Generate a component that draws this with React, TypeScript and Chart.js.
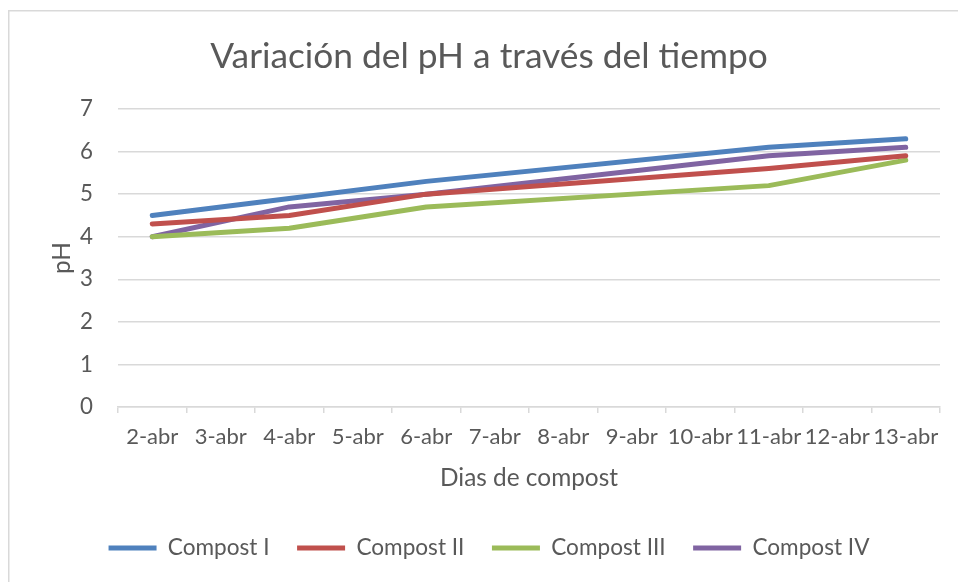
import React, { useEffect, useRef } from "react";
import { Chart, registerables } from "chart.js";

Chart.register(...registerables);

const categories = ["2-abr", "3-abr", "4-abr", "5-abr", "6-abr", "7-abr", "8-abr", "9-abr", "10-abr", "11-abr", "12-abr", "13-abr"];
const compostI = [4.5, null, 4.9, null, 5.3, null, null, null, null, 6.1, null, 6.3];
const compostII = [4.3, null, 4.5, null, 5.0, null, null, null, null, 5.6, null, 5.9];
const compostIII = [4.0, null, 4.2, null, 4.7, null, null, null, null, 5.2, null, 5.8];
const compostIV = [4.0, null, 4.7, null, 5.0, null, null, null, null, 5.9, null, 6.1];
const seriesNames = ["Compost I", "Compost II", "Compost III", "Compost IV"];
const seriesColors = ["#4F81BD", "#C0504D", "#9BBB59", "#8064A2"];

const TEXT = "#595959";
const GRID = "#D9D9D9";
const FONT = "Lato";

const framePlugin = {
  id: "frame",
  beforeDraw(chart: any) {
    const ctx = chart.ctx;
    ctx.save();
    ctx.fillStyle = "#FFFFFF";
    ctx.fillRect(0, 0, chart.width, chart.height);
    ctx.strokeStyle = GRID;
    ctx.lineWidth = 1.5;
    ctx.beginPath();
    ctx.moveTo(8.75, chart.height);
    ctx.lineTo(8.75, 10.75);
    ctx.lineTo(chart.width, 10.75);
    ctx.stroke();
    ctx.restore();
  },
};

export default function App() {
  const ref = useRef<HTMLCanvasElement | null>(null);
  useEffect(() => {
    if (!ref.current) return;
    const values = [compostI, compostII, compostIII, compostIV];
    const chart = new Chart(ref.current, {
      type: "line",
      data: {
        labels: categories,
        datasets: values.map((v, i) => ({
          label: seriesNames[i],
          data: v,
          borderColor: seriesColors[i],
          backgroundColor: seriesColors[i],
          borderWidth: 5,
          borderCapStyle: "round" as const,
          borderJoinStyle: "round" as const,
          pointRadius: 0,
          pointHoverRadius: 0,
          pointStyle: "line" as const,
          tension: 0,
          spanGaps: true,
        })),
      },
      options: {
        animation: false,
        responsive: false,
        events: [],
        layout: { padding: { top: 0, bottom: 12.7, left: 20, right: 0 } },
        plugins: {
          title: {
            display: true,
            text: "Variación del pH a través del tiempo",
            color: TEXT,
            font: { family: FONT, size: 35.3, weight: "normal" },
            padding: { top: 35.8, bottom: 30.84 },
          },
          legend: {
            display: true,
            position: "bottom",
            labels: {
              usePointStyle: true,
              pointStyleWidth: 48,
              color: TEXT,
              font: { family: FONT, size: 22.6 },
              padding: 27.5,
            },
          },
          tooltip: { enabled: false },
        },
        scales: {
          x: {
            type: "category",
            offset: true,
            afterFit(scale: any) {
              scale.height = 102.2;
            },
            grid: {
              offset: true,
              drawOnChartArea: false,
              drawTicks: true,
              tickLength: 6,
              color: GRID,
              lineWidth: 1.5,
            },
            border: { display: true, color: GRID, width: 1.5 },
            ticks: {
              color: TEXT,
              font: { family: FONT, size: 22 },
              maxRotation: 0,
              autoSkip: false,
              padding: 11,
            },
            title: {
              display: true,
              text: "Dias de compost",
              color: TEXT,
              font: { family: FONT, size: 24.4 },
              padding: { top: 0, bottom: 16.56 },
            },
          },
          y: {
            min: 0,
            max: 7,
            afterFit(scale: any) {
              scale.width = 98;
            },
            ticks: {
              stepSize: 1,
              color: TEXT,
              font: { family: FONT, size: 22.3 },
              padding: 25,
            },
            grid: { color: GRID, lineWidth: 1.5, drawTicks: false },
            border: { display: false },
            title: {
              display: true,
              text: "pH",
              color: TEXT,
              font: { family: FONT, size: 24.4 },
              padding: { top: 27.4, bottom: 0 },
            },
          },
          yRight: {
            position: "right",
            display: true,
            afterFit(scale: any) {
              scale.width = 18;
            },
            grid: { display: false, drawTicks: false },
            border: { display: false },
            ticks: { display: false },
          },
        },
      },
      plugins: [framePlugin],
    });
    return () => chart.destroy();
  }, []);
  return (
    <canvas
      ref={ref}
      width={958}
      height={582}
      style={{ position: "fixed", left: 0, top: 0, width: 958, height: 582 }}
    />
  );
}
